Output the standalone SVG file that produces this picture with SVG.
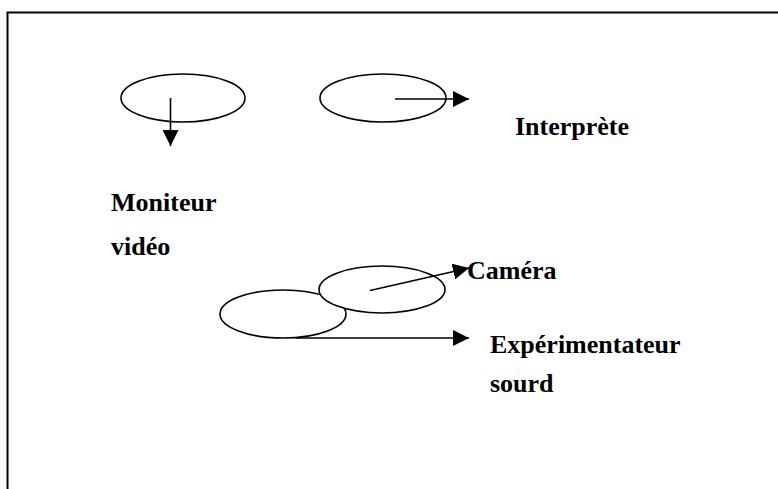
<svg xmlns="http://www.w3.org/2000/svg" width="778" height="489" viewBox="0 0 778 489">
<style>
.node ellipse{fill:#fff;stroke:#000;stroke-width:1.6}
.lbl{font-family:"Liberation Serif","Times New Roman",serif;font-weight:bold;font-size:26px;fill:#000}
.conn line{stroke:#000;stroke-width:1.6;marker-end:url(#ah)}
</style>
<defs>
<marker id="ah" markerUnits="userSpaceOnUse" markerWidth="16" markerHeight="16" viewBox="0 0 16 16" refX="16" refY="8" orient="auto">
<path d="M0,0 L16,8 L0,16 Z" fill="#000"/>
</marker>
</defs>
<rect x="0" y="0" width="778" height="489" fill="#fff"/>
<path d="M7.5,489 V12.5 H778" fill="none" stroke="#000" stroke-width="2"/>
<g id="moniteur" class="node">
<ellipse cx="183" cy="98" rx="62" ry="24"/>
</g>
<g id="interprete" class="node">
<ellipse cx="383" cy="98" rx="63" ry="24"/>
</g>
<g id="experimentateur" class="node">
<ellipse cx="283" cy="314" rx="63" ry="24"/>
</g>
<g id="camera" class="node">
<ellipse cx="382" cy="289.5" rx="63" ry="23.5"/>
</g>
<g id="connectors" class="conn">
<line x1="170.5" y1="98" x2="170.5" y2="146"/>
<line x1="395" y1="99" x2="469" y2="99"/>
<line x1="370" y1="290.5" x2="469" y2="268"/>
<line x1="296" y1="338" x2="469" y2="338"/>
</g>
<g id="labels">
<text class="lbl" x="111" y="211">Moniteur</text>
<text class="lbl" x="111" y="255">vidéo</text>
<text class="lbl" x="515" y="135">Interprète</text>
<text class="lbl" x="467" y="279">Caméra</text>
<text class="lbl" x="490" y="353">Expérimentateur</text>
<text class="lbl" x="490" y="392">sourd</text>
</g>
</svg>
